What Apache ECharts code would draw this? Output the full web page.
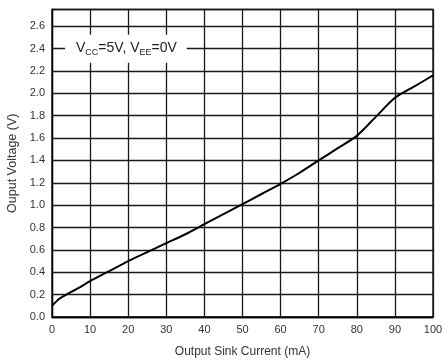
<!DOCTYPE html>
<html>
<head>
<meta charset="utf-8">
<script src="https://cdn.jsdelivr.net/npm/echarts@6/dist/echarts.min.js"></script>
<style>
html,body{margin:0;padding:0;background:#fff;}
#chart{width:444px;height:362px;}
</style>
</head>
<body>
<div id="chart"></div>
<script>
var currentMA = [0, 2, 4, 7, 10, 15, 20, 25, 30, 35, 40, 45, 50, 55, 60, 65, 70, 75, 80, 85, 90, 95, 100];
var outputV   = [0.10, 0.165, 0.205, 0.26, 0.32, 0.41, 0.50, 0.58, 0.66, 0.74, 0.83, 0.92, 1.01, 1.10, 1.19, 1.29, 1.40, 1.51, 1.62, 1.79, 1.96, 2.06, 2.16];
var xTitle = 'Output Sink Current (mA)';
var yTitle = 'Ouput Voltage (V)';
var annotation = { x: 19.4, y: 2.4 };

var FONT = 'Liberation Sans, Arial, sans-serif';
var chart = echarts.init(document.getElementById('chart'), null, {renderer: 'canvas'});
chart.setOption({
  animation: false,
  backgroundColor: '#fff',
  grid: { left: 52, right: 11, top: 9.5, bottom: 45, show: true, borderColor: '#000', borderWidth: 1.3, backgroundColor: 'transparent',
          containLabel: false, outerBoundsMode: 'none' },
  xAxis: {
    type: 'value', min: 0, max: 100, interval: 10,
    name: xTitle, nameLocation: 'middle', nameGap: 29,
    nameTextStyle: { fontFamily: FONT, fontSize: 12, color: '#333' },
    axisLine: { show: true, lineStyle: { color: '#000', width: 1.3 } },
    axisTick: { show: false },
    axisLabel: { fontFamily: FONT, fontSize: 11, color: '#333', margin: 7 },
    splitLine: { show: true, lineStyle: { color: '#1a1a1a', width: 1.3 } }
  },
  yAxis: {
    type: 'value', min: 0, max: 2.75, interval: 0.2,
    name: yTitle, nameLocation: 'middle', nameGap: 31,
    nameTextStyle: { fontFamily: FONT, fontSize: 12.5, color: '#333' },
    axisLine: { show: true, lineStyle: { color: '#000', width: 1.3 } },
    axisTick: { show: false },
    axisLabel: { fontFamily: FONT, fontSize: 11, color: '#333', margin: 7, showMaxLabel: false,
      formatter: function (v) { return v.toFixed(1); } },
    splitLine: { show: true, lineStyle: { color: '#1a1a1a', width: 1.3 } }
  },
  series: [{
    type: 'line',
    data: currentMA.map(function (x, i) { return [x, outputV[i]]; }),
    smooth: 0.25,
    symbol: 'none',
    lineStyle: { color: '#000', width: 2 },
    markPoint: {
      symbol: 'rect', symbolSize: 0, silent: true,
      data: [{ coord: [annotation.x, annotation.y] }],
      label: {
        show: true, position: 'inside',
        backgroundColor: '#fff', padding: [6, 10, 6, 11],
        fontFamily: FONT, fontSize: 14, color: '#222',
        formatter: 'V{s|CC}=5V, V{s|EE}=0V',
        rich: { s: { fontFamily: FONT, fontSize: 9, color: '#222', verticalAlign: 'bottom', padding: [7, 0, 0, 0] } }
      }
    }
  }]
});
</script>
</body>
</html>
